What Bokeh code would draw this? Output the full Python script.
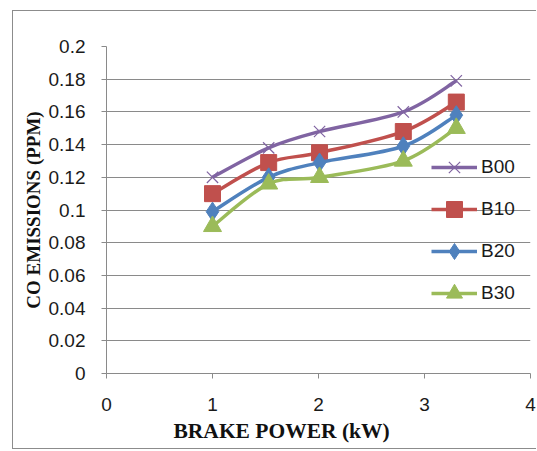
import numpy as np
from bokeh.plotting import figure
from bokeh.models import FixedTicker, Legend, LegendItem, Range1d, Title
from bokeh.embed import file_html
from bokeh.resources import INLINE

# ---- data ----
power = [1.0, 1.53, 2.01, 2.8, 3.3]
b00 = [0.120, 0.138, 0.148, 0.160, 0.179]
b10 = [0.110, 0.129, 0.135, 0.148, 0.166]
b20 = [0.099, 0.120, 0.129, 0.139, 0.158]
b30 = [0.090, 0.116, 0.120, 0.130, 0.150]
series_names = ["B00", "B10", "B20", "B30"]
x_ticks = [0, 1, 2, 3, 4]
y_ticks = [0, 0.02, 0.04, 0.06, 0.08, 0.1, 0.12, 0.14, 0.16, 0.18, 0.2]
y_tick_labels = ["0", "0.02", "0.04", "0.06", "0.08", "0.1", "0.12", "0.14", "0.16", "0.18", "0.2"]
x_title = "BRAKE POWER (kW)"
y_title = "CO EMISSIONS (PPM)"

colors = ["#8064A2", "#C0504D", "#4F81BD", "#9BBB59"]
markers = ["x", "square", "diamond", "triangle"]
msizes = [16, 16, 19, 18]

p = figure(width=524, height=439, output_backend="svg", toolbar_location=None,
           x_range=Range1d(0, 4), y_range=Range1d(0, 0.2),
           min_border_left=93, min_border_right=7, min_border_top=35, min_border_bottom=77)
p.margin = (10, 0, 0, 12)
p.styles = {"border-left": "1px solid #8c8c8c", "border-top": "1px solid #8c8c8c",
            "border-bottom": "1px solid #8c8c8c"}
p.outline_line_color = None
p.xgrid.grid_line_color = None
p.ygrid.grid_line_color = "#8a8a8a"
p.ygrid.grid_line_width = 1
p.ygrid.ticker = FixedTicker(ticks=y_ticks)

for ax in (p.xaxis[0], p.yaxis[0]):
    ax.axis_line_color = "#8a8a8a"
    ax.major_tick_line_color = "#8a8a8a"
    ax.major_tick_out = 5
    ax.major_tick_in = 0
    ax.minor_tick_line_color = None
    ax.major_label_text_font = "Liberation Sans"
    ax.major_label_text_font_size = "19px"
    ax.major_label_text_color = "#1a1a1a"

p.xaxis.ticker = FixedTicker(ticks=x_ticks)
p.yaxis.ticker = FixedTicker(ticks=y_ticks)
p.yaxis.major_label_overrides = {t: l for t, l in zip(y_ticks, y_tick_labels)}
p.xaxis.major_label_standoff = 19
p.yaxis.major_label_standoff = 16

p.yaxis.axis_label = y_title
p.yaxis.axis_label_text_font = "Liberation Serif"
p.yaxis.axis_label_text_font_style = "bold"
p.yaxis.axis_label_text_font_size = "19px"
p.yaxis.axis_label_text_color = "#111111"
p.yaxis.axis_label_standoff = 2


def bezier_parts(xs, ys):
    pts = np.column_stack([xs, ys]).astype(float)
    n = len(pts)
    out = {k: [] for k in ("x0", "y0", "x1", "y1", "cx0", "cy0", "cx1", "cy1")}
    for i in range(n - 1):
        p0 = pts[i - 1] if i > 0 else pts[i]
        p1 = pts[i]
        p2 = pts[i + 1]
        p3 = pts[i + 2] if i + 2 < n else pts[i + 1]
        c1 = p1 + (p2 - p0) / 6.0
        c2 = p2 - (p3 - p1) / 6.0
        out["x0"].append(p1[0]); out["y0"].append(p1[1])
        out["x1"].append(p2[0]); out["y1"].append(p2[1])
        out["cx0"].append(c1[0]); out["cy0"].append(c1[1])
        out["cx1"].append(c2[0]); out["cy1"].append(c2[1])
    return out


items = []
for name, ys, col, mk, ms in zip(series_names, [b00, b10, b20, b30], colors, markers, msizes):
    bz = bezier_parts(power, ys)
    r1 = p.bezier(line_color=col, line_width=3.5, **bz)
    if mk == "x":
        r2 = p.scatter(power, ys, marker=mk, size=ms, line_color=col, line_width=1.2)
    else:
        r2 = p.scatter(power, ys, marker=mk, size=ms, fill_color=col, line_color=col)
    items.append(LegendItem(label=name, renderers=[r1, r2]))

legend = Legend(items=items, location=(325, 60), padding=0, margin=0,
                spacing=2, glyph_width=46, glyph_height=40, label_height=40,
                label_standoff=4, border_line_alpha=0, background_fill_alpha=0,
                label_text_font="Liberation Sans", label_text_font_size="19px",
                label_text_color="#1a1a1a")
p.add_layout(legend)

p.add_layout(Title(text=x_title, align="left", offset=67, standoff=7,
                   text_font="Liberation Serif", text_font_style="bold",
                   text_font_size="21.5px", text_color="#111111"), "below")

open("out.html", "w").write(file_html(p, INLINE))
